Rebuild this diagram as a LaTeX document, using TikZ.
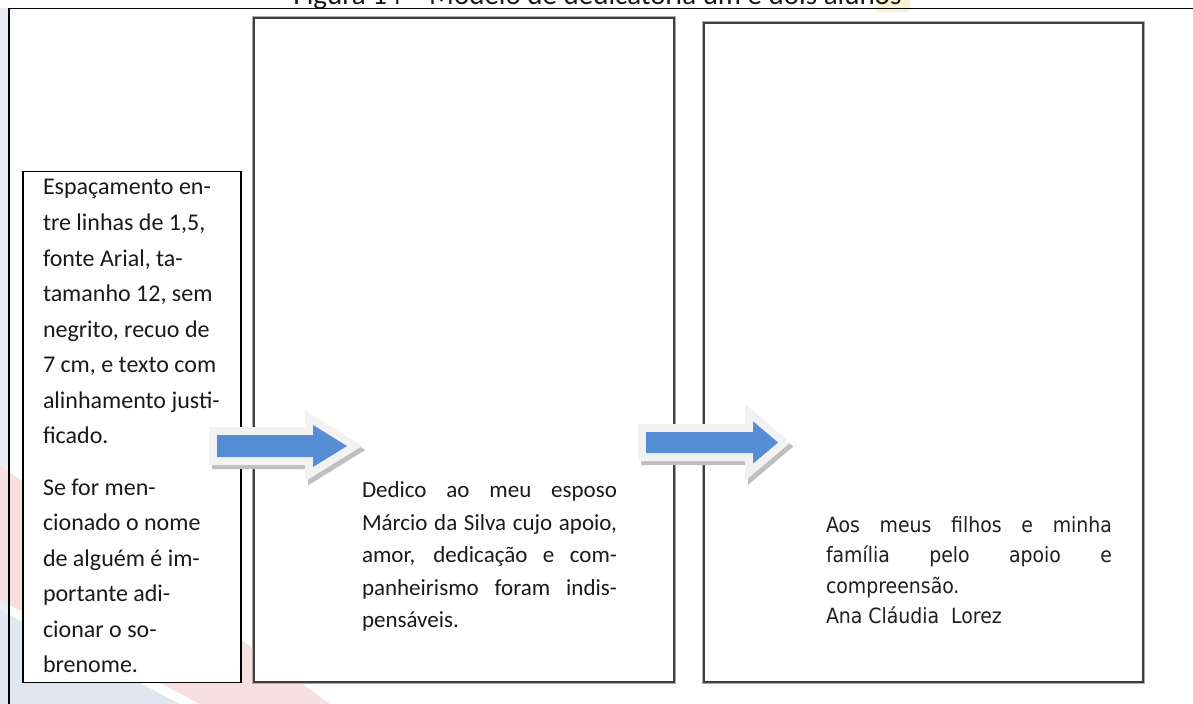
\documentclass[tikz,border=0pt]{standalone}
\usepackage{fontspec}
\setmainfont{Carlito}
\newfontfamily\pagefont{DejaVu Sans Condensed}
\definecolor{stripbg}{HTML}{E9ECF3}
\definecolor{wmred}{HTML}{F8E0E0}
\definecolor{wmblue}{HTML}{E2E6F0}
\definecolor{boxdark}{HTML}{3F3F3F}
\definecolor{boxhalo}{HTML}{ABABAB}
\definecolor{arrowblue}{HTML}{558ED5}
\definecolor{arrowrim}{HTML}{F2F2F2}
\definecolor{arrowshade}{HTML}{BFBFBF}
\definecolor{marker}{HTML}{F8F2CF}
\definecolor{ink}{HTML}{1A1A1A}
\tikzset{
  notebox/.style={draw=black, line width=1.4bp, fill=white, inner sep=0pt, outer sep=0pt},
  pagebox/.style={draw=boxdark, line width=2bp, fill=white, inner sep=0pt, outer sep=0pt,
                  preaction={draw=boxhalo, line width=4bp}},
  bodytext/.style={anchor=base west, inner sep=0pt, outer sep=0pt, text=ink},
  arrowshadow/.style={draw=arrowshade, fill=arrowshade, line width=16bp, line join=miter, shift={(3,4)}},
  arrowedge/.style={draw=arrowrim, fill=arrowrim, line width=16bp, line join=miter},
  arrowcore/.style={fill=arrowblue},
  framerule/.style={draw=black, line width=1.3bp}
}
\begin{document}
\begin{tikzpicture}[x=1bp, y=-1bp]
  % canvas
  \clip (0,0) rectangle (1193,704);
  \fill[white] (0,0) rectangle (1193,704);
  \fill[stripbg] (0,8.5) rectangle (9,704);
  % faint background marks in the lower left
  \fill[wmred] (0,465) -- (330,704) -- (200,704) -- (0,600) -- cycle;
  \fill[wmblue] (0,610) -- (180,704) -- (0,704) -- cycle;

  % caption, partly above the sheet
  \fill[marker] (877,0) rectangle (910,12);
  \node[anchor=base, inner sep=0pt, font=\fontsize{29bp}{34bp}\selectfont, text=ink] (caption) at (597.5,5)
    {Figura 14 – Modelo de dedicatória um e dois alunos};

  % frame
  \draw[framerule] (9,704) -- (9,8.5) -- (1193,8.5);

  % pages and note
  \node[pagebox, minimum width=420bp, minimum height=664bp] (page1) at (464,350) {};
  \node[pagebox, minimum width=439bp, minimum height=659bp] (page2) at (923.5,352.5) {};
  \node[notebox, minimum width=218bp, minimum height=511bp] (note) at (132,427) {};

  % note text
  \node[bodytext] (notetext) at (43,195) {\parbox[t]{200bp}{\fontsize{24bp}{35.5bp}\selectfont
    Espaçamento en-\\
    tre linhas de 1,5,\\
    fonte Arial, ta-\\
    tamanho 12, sem\\
    negrito, recuo de\\
    7 cm, e texto com\\
    alinhamento justi-\\
    ficado.\\[16bp]
    Se for men-\\
    cionado o nome\\
    de alguém é im-\\
    portante adi-\\
    cionar o so-\\
    brenome.}};

  % first dedication
  \node[bodytext] (text1) at (362,497.5) {\parbox[t]{255bp}{\fontsize{23bp}{32.5bp}\selectfont
    \makebox[255bp][s]{Dedico ao meu esposo}\\
    \makebox[255bp][s]{Márcio da Silva cujo apoio,}\\
    \makebox[255bp][s]{amor, dedicação e com-}\\
    \makebox[255bp][s]{panheirismo foram indis-}\\
    pensáveis.}};

  % second dedication
  \node[bodytext, text=black!88] (text2) at (826,532) {\parbox[t]{286bp}{\pagefont\fontsize{21bp}{30.5bp}\selectfont
    \makebox[286bp][s]{Aos meus filhos e minha}\\
    \makebox[286bp][s]{família pelo apoio e}\\
    compreensão.\\
    Ana Cláudia\ \ Lorez}};

  % block arrows
  \path[arrowshadow] (217,435) -- (313,435) -- (313,425) -- (347,446) -- (313,467) -- (313,457) -- (217,457) -- cycle;
  \path[arrowedge]   (217,435) -- (313,435) -- (313,425) -- (347,446) -- (313,467) -- (313,457) -- (217,457) -- cycle;
  \path[arrowcore]   (217,435) -- (313,435) -- (313,425) -- (347,446) -- (313,467) -- (313,457) -- (217,457) -- cycle;

  \path[arrowshadow] (646,432) -- (753,432) -- (753,421.3) -- (778,442.5) -- (753,463.7) -- (753,453) -- (646,453) -- cycle;
  \path[arrowedge]   (646,432) -- (753,432) -- (753,421.3) -- (778,442.5) -- (753,463.7) -- (753,453) -- (646,453) -- cycle;
  \path[arrowcore]   (646,432) -- (753,432) -- (753,421.3) -- (778,442.5) -- (753,463.7) -- (753,453) -- (646,453) -- cycle;
\end{tikzpicture}
\end{document}
